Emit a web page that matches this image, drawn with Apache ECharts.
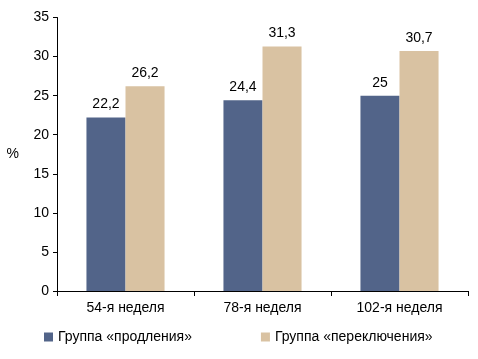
<!DOCTYPE html>
<html><head><meta charset="utf-8">
<script src="https://cdn.jsdelivr.net/npm/echarts@6/dist/echarts.min.js"></script>
<style>html,body{margin:0;padding:0;background:#fff}#c{width:478px;height:359px}</style>
</head><body><div id="c"></div>
<script>
const categories = ['54-я неделя', '78-я неделя', '102-я неделя'];
const seriesNames = ['Группа «продления»', 'Группа «переключения»'];
const extension = [22.2, 24.4, 25];
const switching = [26.2, 31.3, 30.7];
const yTicks = [0, 5, 10, 15, 20, 25, 30, 35];

const FONT = '"Liberation Sans", Arial, sans-serif';
const fmt = v => String(v).replace('.', ',');
const chart = echarts.init(document.getElementById('c'));
chart.setOption({
  animation: false,
  textStyle: { fontFamily: FONT },
  grid: { left: 57, right: 10, top: 17.5, bottom: 68, containLabel: false },
  legend: {
    bottom: 10, left: 39, itemGap: 69, itemWidth: 9, itemHeight: 9,
    icon: 'rect',
    textStyle: { fontFamily: FONT, fontSize: 14, color: '#000' },
    data: seriesNames
  },
  xAxis: {
    type: 'category', data: categories,
    axisLine: { lineStyle: { color: '#000', width: 1 } },
    axisTick: { show: true, length: 5, lineStyle: { color: '#000' } },
    axisLabel: { color: '#000', fontSize: 14, fontFamily: FONT, margin: 10 }
  },
  yAxis: {
    type: 'value', min: 0, max: 35, interval: 5,
    name: '%', nameLocation: 'middle', nameGap: 38, nameRotate: 0,
    nameTextStyle: { color: '#000', fontSize: 14, fontFamily: FONT },
    axisLine: { show: true, lineStyle: { color: '#000', width: 1 } },
    axisTick: { show: true, length: 4, lineStyle: { color: '#000' } },
    axisLabel: { color: '#000', fontSize: 14, fontFamily: FONT, margin: 8,
      formatter: v => yTicks.includes(v) ? String(v) : '' },
    splitLine: { show: false }
  },
  series: [
    { name: seriesNames[0], type: 'bar', data: extension, barGap: '0%', barCategoryGap: '43%',
      itemStyle: { color: '#526489' },
      label: { show: true, position: 'top', distance: 6, color: '#000', fontSize: 14, fontFamily: FONT, formatter: p => fmt(p.value) } },
    { name: seriesNames[1], type: 'bar', data: switching, barGap: '0%', barCategoryGap: '43%',
      itemStyle: { color: '#d9c2a2' },
      label: { show: true, position: 'top', distance: 6, color: '#000', fontSize: 14, fontFamily: FONT, formatter: p => fmt(p.value) } }
  ]
});
</script></body></html>
